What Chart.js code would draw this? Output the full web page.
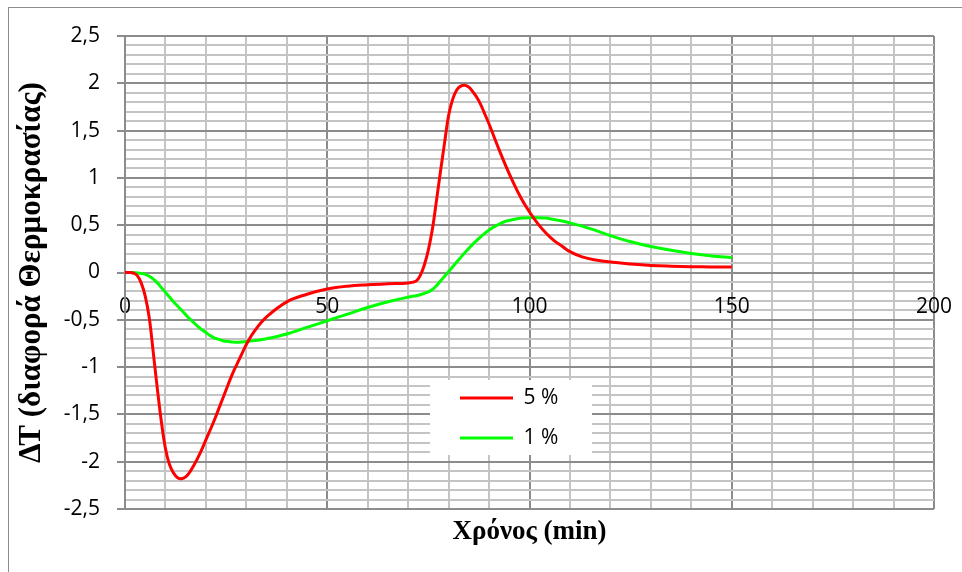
<!DOCTYPE html>
<html>
<head>
<meta charset="utf-8">
<script src="https://cdn.jsdelivr.net/npm/chart.js@4/dist/chart.umd.min.js"></script>
<style>
  html, body { margin: 0; padding: 0; background: #fff; }
  #wrap { position: relative; width: 962px; height: 572px; overflow: hidden; background: #fff; }
  #frame { position: absolute; left: 8px; top: 7px; width: 980px; height: 600px;
           border: 1px solid #8c8c8c; box-sizing: border-box; pointer-events: none; }
</style>
</head>
<body>
<div id="wrap">
  <canvas id="chart" width="962" height="572"></canvas>
  <div id="frame"></div>
</div>
<script>
// Time axis (min)
const timeMin = [0, 1, 2, 3, 4, 5, 6, 7, 8, 9, 10, 11, 12, 13, 14, 15, 16, 17, 18, 19, 20,
                 21, 22, 23, 24, 25, 26, 27, 28, 29, 30, 32, 35, 40, 45, 50, 55, 60, 65, 70,
                 72, 73, 74, 75, 76, 77, 78, 79, 80, 81, 82, 83, 84, 85, 86, 87, 88, 89, 90,
                 92, 94, 96, 98, 100, 102, 104, 106, 108, 110, 113, 116, 120, 125, 130, 135,
                 140, 145, 150];

// Temperature difference, 5 % sample
const dT5 = [0, 0, -0.005, -0.03, -0.11, -0.25, -0.48, -0.85, -1.23, -1.58, -1.86,
             -2.03, -2.12, -2.17, -2.18, -2.16, -2.11, -2.04, -1.96, -1.87, -1.77,
             -1.67, -1.57, -1.46, -1.35, -1.24, -1.13, -1.03, -0.94, -0.85, -0.76,
             -0.62, -0.47, -0.31, -0.23, -0.175, -0.145, -0.13, -0.12, -0.11,
             -0.09, -0.03, 0.08, 0.24, 0.46, 0.76, 1.07, 1.37, 1.66, 1.83, 1.93, 1.97, 1.98,
             1.96, 1.91, 1.85, 1.77, 1.67, 1.57,
             1.35, 1.14, 0.95, 0.78, 0.64, 0.52, 0.42, 0.34, 0.28, 0.22, 0.165, 0.135,
             0.11, 0.09, 0.075, 0.067, 0.062, 0.059, 0.057];

// Temperature difference, 1 % sample
const dT1 = [0, 0, 0, -0.005, -0.01, -0.02, -0.04, -0.07, -0.11, -0.16, -0.21,
             -0.26, -0.31, -0.355, -0.40, -0.445, -0.49, -0.53, -0.57, -0.605, -0.635,
             -0.665, -0.69, -0.705, -0.718, -0.727, -0.733, -0.736, -0.737, -0.734, -0.73,
             -0.72, -0.70, -0.65, -0.58, -0.51, -0.44, -0.37, -0.31, -0.26,
             -0.245, -0.235, -0.22, -0.205, -0.18, -0.14, -0.09, -0.04, 0.01, 0.06, 0.11,
             0.16, 0.21, 0.255, 0.30, 0.34, 0.38, 0.415, 0.45,
             0.50, 0.54, 0.56, 0.575, 0.58, 0.58, 0.575, 0.56, 0.545, 0.525, 0.49, 0.45,
             0.39, 0.325, 0.275, 0.235, 0.20, 0.175, 0.156];

const seriesNames = ['5 %', '1 %'];

// Labelled ticks
const xMajorTicks = [0, 50, 100, 150, 200];
const xTickLabels = ['0', '50', '100', '150', '200'];
const yMajorTicks = [-2.5, -2, -1.5, -1, -0.5, 0, 0.5, 1, 1.5, 2, 2.5];
const yTickLabels = ['-2,5', '-2', '-1,5', '-1', '-0,5', '0', '0,5', '1', '1,5', '2', '2,5'];

const MAJOR = '#8c8c8c';
const MINOR = '#c4c4c4';
const NONE = 'rgba(0,0,0,0)';

const findIdx = (arr, v) => arr.findIndex(t => Math.abs(t - v) < 1e-6);
const xIsMajor = v => findIdx(xMajorTicks, v) >= 0;
const yIsMajor = v => findIdx(yMajorTicks, v) >= 0;

const tickFont = { family: 'Open Sans', size: 21 };
const xTitleFont = { family: 'Liberation Serif', size: 27, weight: 'bold' };
const yTitleFont = { family: 'Liberation Serif', size: 31, weight: 'bold' };

// Legend panel inside the plot
const legendPanel = { x: 430, y: 380, w: 162, h: 75 };

const legendInPlot = {
  id: 'legendInPlot',
  beforeLayout(chart) {
    const lg = chart.legend;
    if (lg && !lg._inPlot) {
      lg._inPlot = true;
      lg._layers = () => [{
        z: 1,
        draw() {
          const ctx = chart.ctx;
          ctx.save();
          ctx.fillStyle = '#ffffff';
          ctx.fillRect(legendPanel.x, legendPanel.y, legendPanel.w, legendPanel.h);
          ctx.restore();
          lg.draw();
        }
      }];
    }
  },
  afterLayout(chart) {
    const lg = chart.legend;
    if (!lg) return;
    lg.left = legendPanel.x + 11;
    lg.top = legendPanel.y - 11.5;
    lg.width = legendPanel.w;
    lg.height = legendPanel.h + 30;
    lg.right = lg.left + lg.width;
    lg.bottom = lg.top + lg.height;
  }
};

const toPoints = ys => timeMin.map((t, i) => ({ x: t, y: ys[i] }));

new Chart(document.getElementById('chart'), {
  type: 'line',
  data: {
    datasets: [
      { label: seriesNames[0], data: toPoints(dT5), borderColor: '#ff0000', backgroundColor: '#ff0000',
        borderWidth: 3, pointRadius: 0, tension: 0.4, fill: false },
      { label: seriesNames[1], data: toPoints(dT1), borderColor: '#00ff00', backgroundColor: '#00ff00',
        borderWidth: 3, pointRadius: 0, tension: 0.4, fill: false }
    ]
  },
  options: {
    responsive: false,
    animation: false,
    events: [],
    layout: { padding: { left: 0, right: 28, top: 36, bottom: 0 } },
    scales: {
      x: {
        type: 'linear',
        position: { y: 0 },
        min: 0, max: 200,
        // labels may overhang the plot edges
        afterFit(s) { s.paddingLeft = 0; s.paddingRight = 0; },
        ticks: {
          stepSize: 10, autoSkip: false, maxRotation: 0, padding: 22,
          color: '#000', font: tickFont,
          callback: v => { const i = findIdx(xMajorTicks, v); return i >= 0 ? xTickLabels[i] : ''; }
        },
        grid: {
          drawTicks: false,
          lineWidth: 2,
          color: c => (c.tick && xIsMajor(c.tick.value)) ? MAJOR : MINOR
        },
        border: { color: MAJOR, width: 2 }
      },
      xt: {
        type: 'linear',
        position: 'bottom',
        min: 0, max: 200,
        afterFit(s) { s.height = 63; s.paddingLeft = 0; s.paddingRight = 0; },
        ticks: { display: false },
        grid: { display: false },
        border: { display: false },
        title: { display: true, text: 'Χρόνος (min)', color: '#000', font: xTitleFont,
                 padding: { top: 0, bottom: 24 } }
      },
      y: {
        type: 'linear',
        position: 'left',
        min: -2.5, max: 2.5,
        afterFit(s) { s.width = 125; },
        ticks: {
          stepSize: 0.1, autoSkip: false, padding: 17,
          color: '#000', font: tickFont,
          callback: v => { const i = findIdx(yMajorTicks, v); return i >= 0 ? yTickLabels[i] : ''; }
        },
        grid: {
          lineWidth: 2,
          tickLength: 8,
          color: c => (c.tick && yIsMajor(c.tick.value)) ? MAJOR : MINOR,
          tickColor: c => (c.tick && yIsMajor(c.tick.value)) ? MAJOR : NONE
        },
        border: { color: MAJOR, width: 2 },
        title: { display: true, text: 'ΔΤ (διαφορά Θερμοκρασίας)', color: '#000', font: yTitleFont,
                 padding: { top: 13, bottom: 0 } }
      }
    },
    plugins: {
      legend: {
        position: 'chartArea',
        align: 'start',
        labels: {
          usePointStyle: true,
          pointStyle: 'line',
          pointStyleWidth: 53,
          padding: 19,
          color: '#000',
          font: tickFont
        }
      },
      tooltip: { enabled: false }
    }
  },
  plugins: [legendInPlot]
});
</script>
</body>
</html>
